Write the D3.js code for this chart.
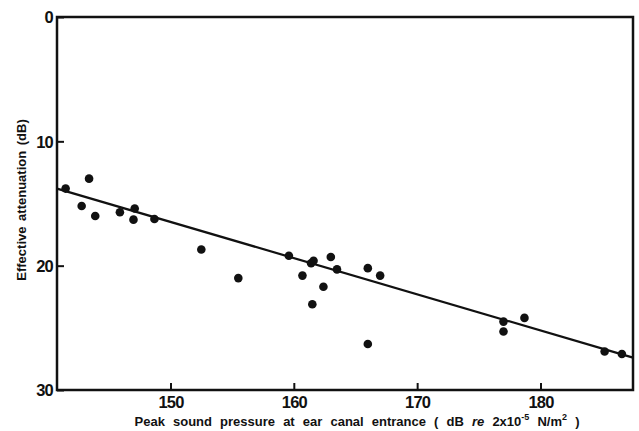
<!DOCTYPE html>
<html>
<head>
<meta charset="utf-8">
<script src="https://cdn.jsdelivr.net/npm/d3@7"></script>
<style>
  html, body { margin: 0; padding: 0; background: #fff; }
  svg { display: block; }
  text { font-family: "Liberation Sans", Arial, sans-serif; font-weight: bold; fill: #111; }
</style>
</head>
<body>
<svg id="chart" width="639" height="431"></svg>
<script>
// Peak sound pressure at ear canal entrance (dB) for each measurement
const peakSPL = [141.5, 142.8, 143.4, 143.9, 145.9, 147.1, 147.0, 148.7, 152.5, 155.5,
                 159.6, 161.4, 161.6, 163.0, 160.7, 163.5, 162.4, 161.5, 166.0, 167.0,
                 166.0, 177.0, 177.0, 178.7, 185.2, 186.6];
// Effective attenuation (dB) for each measurement
const attenuation = [13.8, 15.2, 13.0, 16.0, 15.7, 15.4, 16.3, 16.25, 18.7, 21.0,
                     19.2, 19.8, 19.6, 19.3, 20.8, 20.3, 21.7, 23.1, 20.2, 20.8,
                     26.3, 24.5, 25.3, 24.2, 26.9, 27.1];
// Fitted trend line end points
const fitX = [140.8, 187.5];
const fitY = [13.8, 27.4];
// Axis ticks
const xTicks = [150, 160, 170, 180];
const yTicks = [0, 10, 20, 30];

const svg = d3.select("#chart");
const plotL = 57, plotR = 633, plotT = 17, plotB = 390;

const x = d3.scaleLinear().domain([140.8, 187.5]).range([plotL, plotR]);
const y = d3.scaleLinear().domain([0, 30]).range([plotT, plotB]);

// Inward ticks
const xAxis = d3.axisBottom(x).tickValues(xTicks).tickSize(-7).tickPadding(6).tickFormat(d3.format("d"));
const yAxis = d3.axisLeft(y).tickValues(yTicks).tickSize(-7).tickPadding(4).tickFormat(d3.format("d"));

const gx = svg.append("g").attr("transform", `translate(0,${plotB})`).call(xAxis);
const gy = svg.append("g").attr("transform", `translate(${plotL},0)`).call(yAxis);
[gx, gy].forEach(g => {
  g.select(".domain").remove();
  g.selectAll(".tick line").attr("stroke", "#111").attr("stroke-width", 2);
  g.selectAll(".tick text").attr("font-size", 16.5).attr("letter-spacing", -0.8).attr("fill", "#111");
});
gy.selectAll(".tick text").attr("dy", "0.36em");

// Frame
svg.append("rect")
  .attr("x", plotL).attr("y", plotT)
  .attr("width", plotR - plotL).attr("height", plotB - plotT)
  .attr("fill", "none").attr("stroke", "#111").attr("stroke-width", 2.5);

// Trend line
svg.append("line")
  .attr("x1", x(fitX[0])).attr("y1", y(fitY[0]))
  .attr("x2", x(fitX[1])).attr("y2", y(fitY[1]))
  .attr("stroke", "#111").attr("stroke-width", 2.2);

// Measurements
svg.append("g").selectAll("circle")
  .data(d3.range(peakSPL.length))
  .join("circle")
  .attr("cx", i => x(peakSPL[i]))
  .attr("cy", i => y(attenuation[i]))
  .attr("r", 4.3)
  .attr("fill", "#111");

// X axis title
const xt = svg.append("text")
  .attr("x", 357).attr("y", 426)
  .attr("text-anchor", "middle")
  .attr("font-size", 13)
  .attr("word-spacing", 4.5);
xt.append("tspan").text("Peak sound pressure at ear canal entrance ( dB ");
xt.append("tspan").attr("font-style", "italic").text("re");
xt.append("tspan").text(" 2x10");
xt.append("tspan").attr("font-size", 9).attr("dy", -6).text("-5");
xt.append("tspan").attr("dy", 6).text(" N/m");
xt.append("tspan").attr("font-size", 9).attr("dy", -6).text("2");
xt.append("tspan").attr("dy", 6).text(" )");

// Y axis title
svg.append("text")
  .attr("transform", "translate(26,200) rotate(-90)")
  .attr("text-anchor", "middle")
  .attr("font-size", 13)
  .attr("word-spacing", 2)
  .text("Effective attenuation (dB)");
</script>
</body>
</html>
